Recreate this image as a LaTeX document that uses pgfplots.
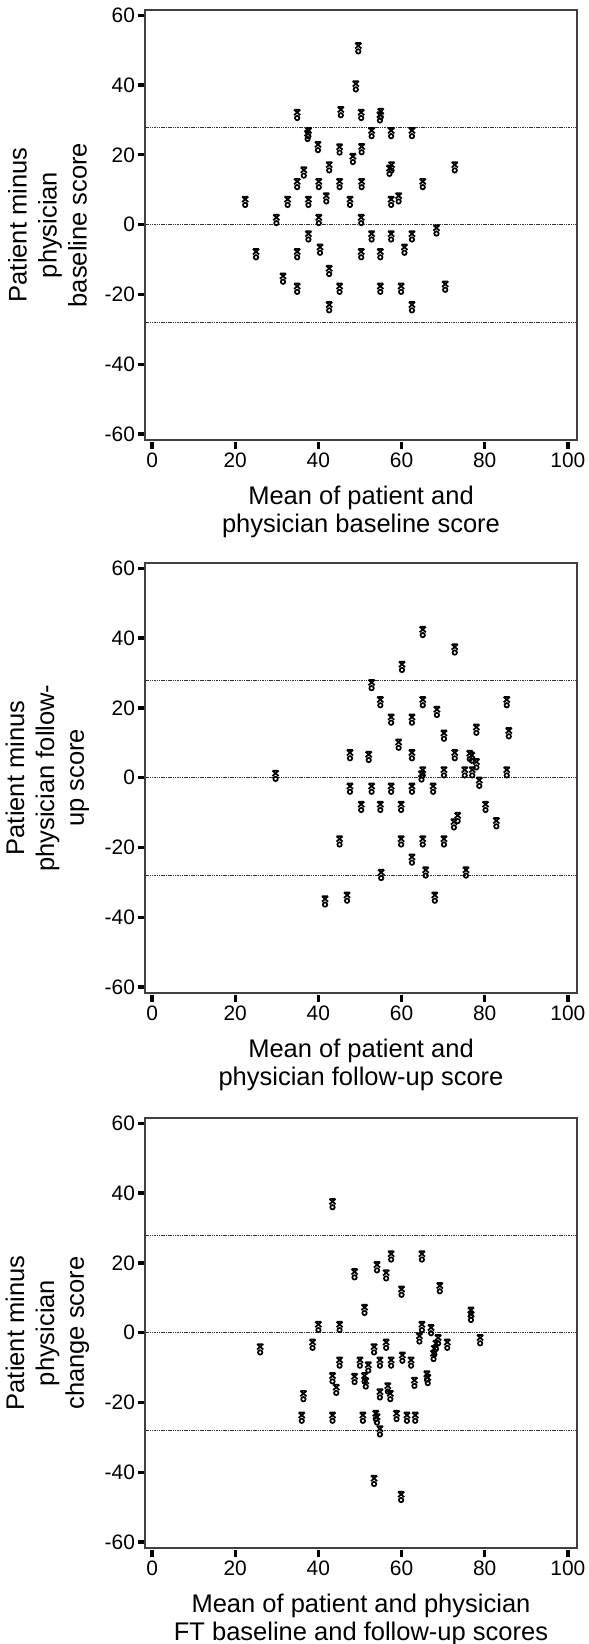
\documentclass[border=0pt]{standalone}
\usepackage{fontspec}
\setmainfont{Liberation Sans}
\usepackage{pgfplots}
\pgfplotsset{compat=1.18}
\pgfdeclareplotmark{xo}{%
  \pgfsetlinewidth{1.7bp}%
  \pgfpathmoveto{\pgfqpoint{-3.1bp}{6.0bp}}\pgfpathlineto{\pgfqpoint{3.1bp}{0.6bp}}%
  \pgfpathmoveto{\pgfqpoint{-3.1bp}{0.6bp}}\pgfpathlineto{\pgfqpoint{3.1bp}{6.0bp}}%
  \pgfpathmoveto{\pgfqpoint{-2.9bp}{6.0bp}}\pgfpathlineto{\pgfqpoint{2.9bp}{6.0bp}}%
  \pgfusepathqstroke
  \pgfpathcircle{\pgfqpoint{0bp}{-2.3bp}}{2.2bp}%
  \pgfusepathqstroke
}
\pgfplotsset{
  bland/.style={
    scale only axis, width=432bp, height=430bp,
    xmin=-1.7, xmax=102.2, ymin=-61.7, ymax=61.5,
    xtick={0,20,40,60,80,100}, xticklabels={0,20,40,60,80,100},
    ytick={-60,-40,-20,0,20,40,60}, yticklabels={-60,-40,-20,0,20,40,60},
    xtick pos=lower, ytick pos=left,
    tick align=outside, major tick length=6.5bp,
    axis line style={black!75, line width=1.3bp},
    major tick style={black, line width=3.3bp},
    xtick style={yshift=-2bp},
    ticklabel style={font=\fontsize{21}{24}\selectfont},
    xticklabel style={yshift=-3bp},
    xlabel style={at={(axis description cs:0.5,0)}, anchor=north, yshift=-46bp, inner sep=0pt, align=center, font=\fontsize{25.6}{27.5}\selectfont},
    ylabel style={at={(axis description cs:-0.2257,0.5)}, anchor=center, inner sep=0pt, align=center, font=\fontsize{25.6}{30}\selectfont},
  },
  refl/.style={black!80, line width=0.8bp, dash pattern=on 1.5bp off 0.8bp, forget plot},
  pts/.style={only marks, mark=xo, black, mark options={solid}},
}
\begin{document}
\begin{tikzpicture}
% ---------- Plot 1 ----------
\begin{axis}[bland, at={(145bp,-440bp)}, anchor=south west,
  xlabel={Mean of patient and\\physician baseline score},
  ylabel={Patient minus\\physician\\baseline score}]
\addplot[refl] coordinates {(-1.7,28) (102.2,28)};
\addplot[refl] coordinates {(-1.7,0) (102.2,0)};
\addplot[refl] coordinates {(-1.7,-28) (102.2,-28)};
\addplot[pts] coordinates {
(49.6,50.3) (49.0,39.4) (34.9,31.2) (45.4,32.0) (50.3,31.2) (54.8,30.5) (55.0,31.5)
(37.6,26.0) (37.4,25.2) (52.8,26.0) (57.5,26.0) (62.5,26.0)
(39.9,22.0) (45.1,21.3) (50.4,21.4) (48.3,18.6) (42.6,16.2) (57.6,16.2) (57.1,15.2)
(72.8,16.2) (36.5,14.7) (34.9,11.4) (40.1,11.4) (45.1,11.4) (50.4,11.4) (65.1,11.4)
(22.4,6.3) (32.6,6.3) (37.6,6.3) (41.9,7.3) (47.6,6.3) (57.5,6.3) (59.3,7.3)
(29.9,1.1) (40.1,1.1) (50.3,1.1) (68.4,-1.9)
(37.6,-3.6) (52.8,-3.6) (57.5,-3.6) (62.5,-3.6)
(40.4,-7.4) (60.7,-7.4) (25.0,-8.7) (34.9,-8.7) (50.3,-8.7) (54.9,-8.7)
(42.6,-13.5) (31.5,-15.7) (34.9,-18.6) (45.1,-18.6) (54.9,-18.6) (59.9,-18.6) (70.5,-18.0)
(42.6,-23.9) (62.5,-23.9)
};
\end{axis}
% ---------- Plot 2 ----------
\begin{axis}[bland, at={(145bp,-993bp)}, anchor=south west,
  xlabel={Mean of patient and\\physician follow-up score},
  ylabel={Patient minus\\physician follow-\\up score}]
\addplot[refl] coordinates {(-1.7,28) (102.2,28)};
\addplot[refl] coordinates {(-1.7,0) (102.2,0)};
\addplot[refl] coordinates {(-1.7,-28) (102.2,-28)};
\addplot[pts] coordinates {
(65.1,41.5) (72.8,36.5) (60.1,31.5) (52.8,26.3) (54.9,21.4) (65.1,21.4) (85.3,21.4)
(68.5,18.6) (57.5,16.4) (62.5,16.4) (78.0,13.5) (85.8,12.5) (70.2,11.8) (59.3,9.2)
(47.6,6.2) (52.1,5.7) (62.5,6.2) (72.8,6.2) (76.4,6.0) (76.9,5.5) (78.0,3.6)
(29.7,0.3) (65.1,1.3) (64.8,0.1) (70.2,1.3) (75.2,1.3) (77.0,1.3) (85.3,1.3) (78.7,-1.7)
(47.6,-3.4) (52.8,-3.4) (57.5,-3.4) (62.5,-3.4) (67.6,-3.4)
(50.3,-8.6) (54.9,-8.6) (59.9,-8.6) (80.2,-8.6)
(73.5,-11.8) (72.6,-13.6) (82.8,-13.3)
(45.1,-18.5) (59.9,-18.5) (65.1,-18.5) (70.2,-18.5) (62.5,-23.7)
(55.1,-28.1) (65.8,-27.4) (75.5,-27.4) (46.9,-34.6) (68.0,-34.6) (41.6,-35.7)
};
\end{axis}
% ---------- Plot 3 ----------
\begin{axis}[bland, at={(145bp,-1548bp)}, anchor=south west,
  xlabel={Mean of patient and physician\\FT baseline and follow-up scores},
  ylabel={Patient minus\\physician\\change score}]
\addplot[refl] coordinates {(-1.7,28) (102.2,28)};
\addplot[refl] coordinates {(-1.7,0) (102.2,0)};
\addplot[refl] coordinates {(-1.7,-28) (102.2,-28)};
\addplot[pts] coordinates {
(43.4,36.6) (57.5,21.6) (64.9,21.6) (54.1,18.5) (48.7,16.5) (56.3,16.2) (60.0,11.5) (69.2,12.5)
(51.1,6.3) (76.7,5.5) (76.7,4.3) (40.0,1.4) (45.1,1.4) (64.9,1.4) (67.1,0.5)
(64.3,-1.9) (68.8,-2.4) (78.9,-2.4) (38.6,-3.7) (56.3,-3.7) (71.0,-3.7) (68.3,-4.0)
(26.0,-5.0) (53.4,-5.0) (67.9,-5.5) (67.7,-6.9) (60.2,-7.4)
(45.1,-8.8) (50.0,-8.8) (54.8,-8.8) (57.5,-8.8) (62.3,-8.8) (52.0,-10.2)
(43.4,-13.3) (48.7,-13.5) (51.1,-13.3) (51.4,-14.8) (66.1,-12.8) (66.3,-13.8) (63.1,-14.6)
(44.3,-16.6) (56.7,-16.2) (36.4,-18.4) (54.8,-17.9) (57.3,-18.4)
(36.0,-24.6) (43.4,-24.6) (50.7,-24.6) (53.8,-24.1) (54.1,-25.1) (58.8,-24.1) (61.3,-24.6) (63.3,-24.6)
(54.8,-28.5) (53.4,-42.7) (59.9,-47.3)
};
\end{axis}
\pgfresetboundingbox
\path[use as bounding box] (0,0) rectangle (589bp,-1644bp);
\end{tikzpicture}
\end{document}
